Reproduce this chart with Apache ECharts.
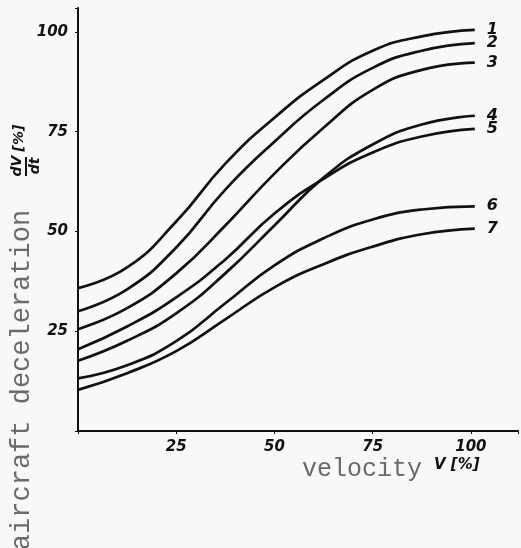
<!DOCTYPE html>
<html>
<head>
<meta charset="utf-8">
<script src="https://cdn.jsdelivr.net/npm/echarts@6/dist/echarts.min.js"></script>
<style>
  html, body { margin: 0; padding: 0; background: #f8f8f6; }
  #chart { width: 521px; height: 548px; }
</style>
</head>
<body>
<div id="chart"></div>
<script>
// velocity V [%] where the curves were read
const velocity = [0, 12.5, 25, 37.5, 50, 62.5, 75, 87.5, 101];
// deceleration dV/dt [%] for each curve
const curve1 = [35.8, 41, 52.5, 67, 78.5, 88, 95.3, 98.9, 100.5];
const curve2 = [30, 35.5, 46, 60.5, 72.5, 83, 91, 95.3, 97.2];
const curve3 = [25.5, 30.8, 39.5, 51.5, 64.5, 76, 85.5, 90.5, 92.3];
const curve4 = [17.6, 22.6, 29.5, 39.5, 51.5, 63.5, 71.8, 76.8, 79];
const curve5 = [20.5, 26.2, 33.5, 43, 54.5, 63.2, 69.8, 73.8, 75.7];
const curve6 = [13.2, 16.5, 22.5, 32, 41.5, 48.3, 53, 55.5, 56.3];
const curve7 = [10.3, 14.5, 20, 28, 36, 41.8, 46.2, 49.3, 50.7];
const curveNames = ['1', '2', '3', '4', '5', '6', '7'];
const curves = [curve1, curve2, curve3, curve4, curve5, curve6, curve7];
const tickLabels = [25, 50, 75, 100];

const chart = echarts.init(document.getElementById('chart'));

const labelFont = {
  color: '#111',
  fontSize: 15,
  fontWeight: 'bold',
  fontStyle: 'italic',
  fontFamily: 'DejaVu Sans',
};

const series = curves.map((vals, i) => ({
  name: curveNames[i],
  type: 'line',
  smooth: true,
  symbol: 'none',
  lineStyle: { color: '#111', width: 2.7 },
  endLabel: {
    show: true,
    formatter: '{a}',
    distance: 12,
    color: '#111',
    fontSize: 16,
    fontWeight: 'bold',
    fontStyle: 'italic',
    fontFamily: 'DejaVu Sans',
  },
  data: velocity.map((v, j) => [v, vals[j]]),
}));

const option = {
  backgroundColor: '#f8f8f6',
  animation: false,
  grid: { left: 78, right: 0, top: 8, bottom: 117 },
  xAxis: {
    type: 'value',
    min: 0,
    max: 112,
    interval: 25,
    splitLine: { show: false },
    axisLine: { show: true, onZero: false, lineStyle: { color: '#111', width: 2 } },
    axisTick: { show: true, length: 3, lineStyle: { color: '#111' } },
    axisLabel: Object.assign({
      margin: 9,
      formatter: (v) => (tickLabels.includes(v) ? String(v) : ''),
    }, labelFont),
  },
  yAxis: {
    type: 'value',
    min: 0,
    max: 106,
    interval: 25,
    splitLine: { show: false },
    axisLine: { show: true, onZero: false, lineStyle: { color: '#111', width: 2 } },
    axisTick: { show: true, length: 3, lineStyle: { color: '#111' } },
    axisLabel: Object.assign({
      margin: 10,
      formatter: (v) => (tickLabels.includes(v) ? String(v) : ''),
    }, labelFont),
  },
  graphic: [
    {
      type: 'text',
      x: 22,
      y: 380,
      rotation: Math.PI / 2,
      style: {
        text: 'aircraft deceleration',
        fill: '#6a6a6a',
        font: '27px "Liberation Mono", monospace',
        align: 'center',
        verticalAlign: 'middle',
      },
    },
    {
      type: 'text',
      x: 17,
      y: 166,
      rotation: Math.PI / 2,
      style: {
        text: 'dV',
        fill: '#111',
        font: 'italic bold 14px "DejaVu Sans"',
        align: 'center',
        verticalAlign: 'middle',
      },
    },
    {
      type: 'line',
      shape: { x1: 26, y1: 157, x2: 26, y2: 176 },
      style: { stroke: '#111', lineWidth: 2 },
    },
    {
      type: 'text',
      x: 35,
      y: 166,
      rotation: Math.PI / 2,
      style: {
        text: 'dt',
        fill: '#111',
        font: 'italic bold 14px "DejaVu Sans"',
        align: 'center',
        verticalAlign: 'middle',
      },
    },
    {
      type: 'text',
      x: 19,
      y: 138,
      rotation: Math.PI / 2,
      style: {
        text: '[%]',
        fill: '#111',
        font: 'italic bold 14px "DejaVu Sans"',
        align: 'center',
        verticalAlign: 'middle',
      },
    },
    {
      type: 'text',
      x: 302,
      y: 469,
      style: {
        text: 'velocity',
        fill: '#6a6a6a',
        font: '25px "Liberation Mono", monospace',
        align: 'left',
        verticalAlign: 'middle',
      },
    },
    {
      type: 'text',
      x: 434,
      y: 465,
      style: {
        text: 'V [%]',
        fill: '#111',
        font: 'italic bold 15px "DejaVu Sans"',
        align: 'left',
        verticalAlign: 'middle',
      },
    },
  ],
  series,
};

chart.setOption(option);
</script>
</body>
</html>
